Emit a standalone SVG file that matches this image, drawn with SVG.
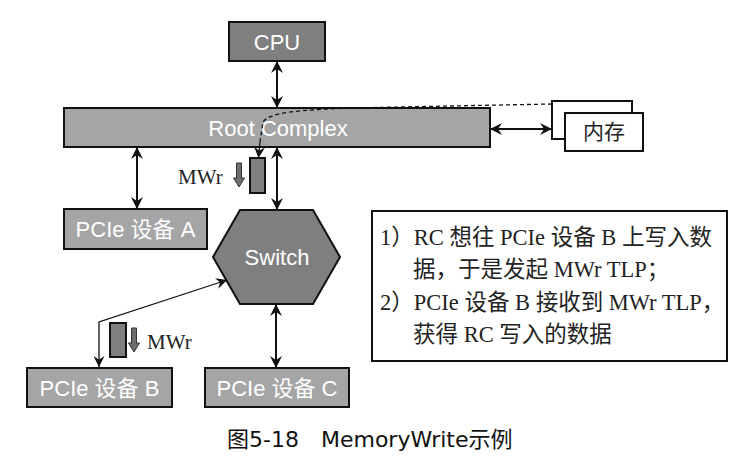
<svg xmlns="http://www.w3.org/2000/svg" width="736" height="464" viewBox="0 0 736 464">
<defs>
<style>
.box{stroke:#111;stroke-width:2}
.dark{fill:#7f7f7f}
.light{fill:#a5a5a5}
.lbl{font-family:"Liberation Sans","Noto Sans CJK SC",sans-serif;font-size:22px;fill:#fff;text-anchor:middle;dominant-baseline:central}
.ser{font-family:"Liberation Serif","Noto Sans CJK SC",serif;fill:#222}
.cap{font-family:"DejaVu Sans","Noto Sans CJK SC",sans-serif;font-size:22px;fill:#111}
.arr{stroke:#111;stroke-width:2;fill:none;marker-start:url(#ah);marker-end:url(#ah)}
.blk{fill:#6e6e6e;stroke:#333;stroke-width:1}
</style>
<marker id="ah" viewBox="0 0 12 12" refX="12" refY="6" markerWidth="12" markerHeight="12" markerUnits="userSpaceOnUse" orient="auto-start-reverse">
<path d="M0,0 L12,6 L0,12 L4,6 z" fill="#111"/>
</marker>
<marker id="ah2" viewBox="0 0 12 12" refX="12" refY="6" markerWidth="11" markerHeight="11" markerUnits="userSpaceOnUse" orient="auto-start-reverse">
<path d="M0,0 L12,6 L0,12 L4,6 z" fill="#111"/>
</marker>
</defs>
<rect width="736" height="464" fill="#fff"/>

<g id="mem">
<rect x="552" y="101" width="80" height="38" fill="#fff" class="box"/>
<rect x="565" y="113" width="78" height="38" fill="#fff" class="box"/>
<text x="604" y="132" class="ser" font-size="21" text-anchor="middle" dominant-baseline="central" fill="#333">内存</text>
</g>

<g id="cpu">
<rect x="229" y="22" width="96" height="39" class="box dark"/>
<text x="277" y="42" class="lbl">CPU</text>
</g>

<g id="rc">
<rect x="64" y="108" width="426" height="39" class="box light"/>
<text x="278" y="128" class="lbl">Root Complex</text>
</g>

<g id="pcieA">
<rect x="64" y="209" width="143" height="40" class="box light"/>
<text x="135.5" y="229" class="lbl">PCIe 设备 A</text>
</g>

<g id="switch">
<polygon points="213,257 240,210 313,210 340,257 313,304 240,304" class="box dark"/>
<text x="277" y="257" class="lbl">Switch</text>
</g>

<g id="pcieB">
<rect x="27" y="368" width="145" height="39" class="box light"/>
<text x="99.5" y="388" class="lbl">PCIe 设备 B</text>
</g>

<g id="pcieC">
<rect x="205" y="368" width="144" height="39" class="box light"/>
<text x="277" y="388" class="lbl">PCIe 设备 C</text>
</g>

<g id="note">
<rect x="372" y="211" width="355" height="150" fill="#fff" stroke="#111" stroke-width="2"/>
<text class="ser" font-size="22.5"><tspan x="380" y="245">1）RC 想往 PCIe 设备 B 上写入数</tspan><tspan x="413" y="277">据，于是发起 MWr TLP；</tspan><tspan x="380" y="310">2）PCIe 设备 B 接收到 MWr TLP，</tspan><tspan x="413" y="342">获得 RC 写入的数据</tspan></text>
</g>

<g id="tlp1">
<rect x="250" y="158" width="15" height="35" fill="#808080" stroke="#111" stroke-width="2"/>
<polygon points="236.5,163 241.5,163 241.5,178 244.5,178 239,187 233.5,178 236.5,178" class="blk"/>
<text x="178" y="184" class="ser" font-size="21">MWr</text>
</g>

<g id="tlp2">
<rect x="110" y="323" width="16" height="34" fill="#808080" stroke="#111" stroke-width="2"/>
<polygon points="131.5,328 136.5,328 136.5,343 139.5,343 134,352 128.5,343 131.5,343" class="blk"/>
<text x="147" y="349" class="ser" font-size="21">MWr</text>
</g>

<g id="connectors">
<line x1="277" y1="61" x2="277" y2="108" class="arr"/>
<line x1="490" y1="129" x2="552" y2="129" class="arr"/>
<line x1="137" y1="147" x2="137" y2="209" class="arr"/>
<line x1="277" y1="147" x2="277" y2="210" class="arr"/>
<line x1="276" y1="304" x2="276" y2="368" class="arr"/>
<path d="M552,104 L350,108 C300,110 270,112 263,122 L260,142" fill="none" stroke="#111" stroke-width="1.3" stroke-dasharray="4,3"/>
<path d="M260,142 L258.5,158" fill="none" stroke="#111" stroke-width="1.3" marker-end="url(#ah2)"/>
<path d="M227,280 L99,322 L99,367" fill="none" stroke="#111" stroke-width="1.3" marker-start="url(#ah2)" marker-end="url(#ah2)"/>
</g>

<text x="227" y="447" class="cap">图5-18　MemoryWrite示例</text>
</svg>
